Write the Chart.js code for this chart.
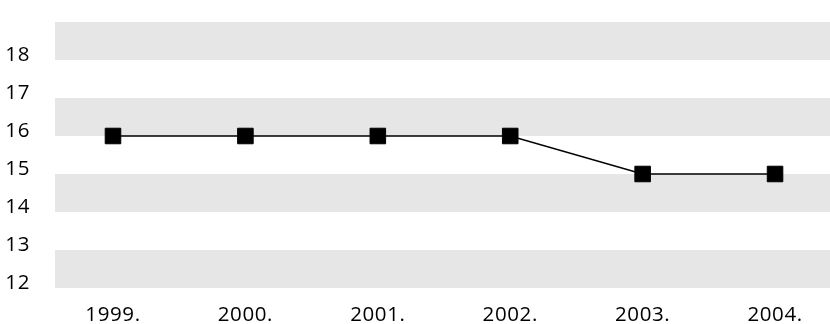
<!DOCTYPE html>
<html>
<head>
<meta charset="utf-8">
<script src="https://cdn.jsdelivr.net/npm/chart.js@4"></script>
<style>
html,body{margin:0;padding:0;background:#fff;}
#wrap{width:830px;height:324px;position:relative;}
</style>
</head>
<body>
<div id="wrap"><canvas id="c" width="830" height="324"></canvas></div>
<script>
const categories = ["1999.", "2000.", "2001.", "2002.", "2003.", "2004."];
const values = [16, 16, 16, 16, 15, 15];
const yTicks = [12, 13, 14, 15, 16, 17, 18];
const yMin = 12, yMax = 19;
const bandColor = "#e6e6e6";
const FONT = "'Open Sans', 'DejaVu Sans', sans-serif";

const bandPlugin = {
  id: "bands",
  beforeDraw(chart) {
    chart.ctx.letterSpacing = "0.6px";
  },
  beforeDatasetsDraw(chart) {
    const {ctx, chartArea, scales} = chart;
    const y = scales.y;
    ctx.save();
    ctx.fillStyle = bandColor;
    for (let v = yMin; v < yMax; v++) {
      if (v % 2 === 0) {
        const top = y.getPixelForValue(v + 1);
        const bot = y.getPixelForValue(v);
        ctx.fillRect(chartArea.left, top, chartArea.right - chartArea.left, bot - top);
      }
    }
    ctx.restore();
  }
};

new Chart(document.getElementById("c"), {
  type: "line",
  data: {
    datasets: [{
      data: values.map((v, i) => ({x: i, y: v})),
      borderColor: "#000",
      borderWidth: 1.5,
      backgroundColor: "#000",
      pointStyle: "rect",
      pointRadius: 11,
      pointBorderWidth: 1,
      pointBorderColor: "#000",
      pointBackgroundColor: "#000",
      tension: 0,
      clip: false
    }]
  },
  options: {
    responsive: false,
    animation: false,
    layout: {autoPadding: false, padding: {top: 22, right: 0, left: 0, bottom: 0}},
    plugins: {legend: {display: false}, tooltip: {enabled: false}},
    scales: {
      x: {
        type: "linear",
        min: -0.438,
        max: 5.415,
        grid: {display: false},
        border: {display: false},
        afterBuildTicks(scale) { scale.ticks = categories.map((_, i) => ({value: i})); },
        afterFit(scale) { scale.height = 36; scale.paddingLeft = 0; scale.paddingRight = 0; },
        ticks: {
          autoSkip: false,
          maxRotation: 0,
          padding: 7,
          color: "#000",
          font: {family: FONT, size: 20.5},
          callback: (v) => categories[v] ?? ""
        }
      },
      y: {
        min: yMin,
        max: yMax,
        grid: {display: false},
        border: {display: false},
        afterBuildTicks(scale) { scale.ticks = yTicks.map(v => ({value: v})); },
        afterFit(scale) { scale.width = 55; scale.paddingTop = 0; scale.paddingBottom = 0; },
        ticks: {
          padding: 17,
          labelOffset: -5,
          color: "#000",
          font: {family: FONT, size: 20.5},
          callback: (v) => String(v)
        }
      }
    }
  },
  plugins: [bandPlugin]
});
</script>
</body>
</html>
